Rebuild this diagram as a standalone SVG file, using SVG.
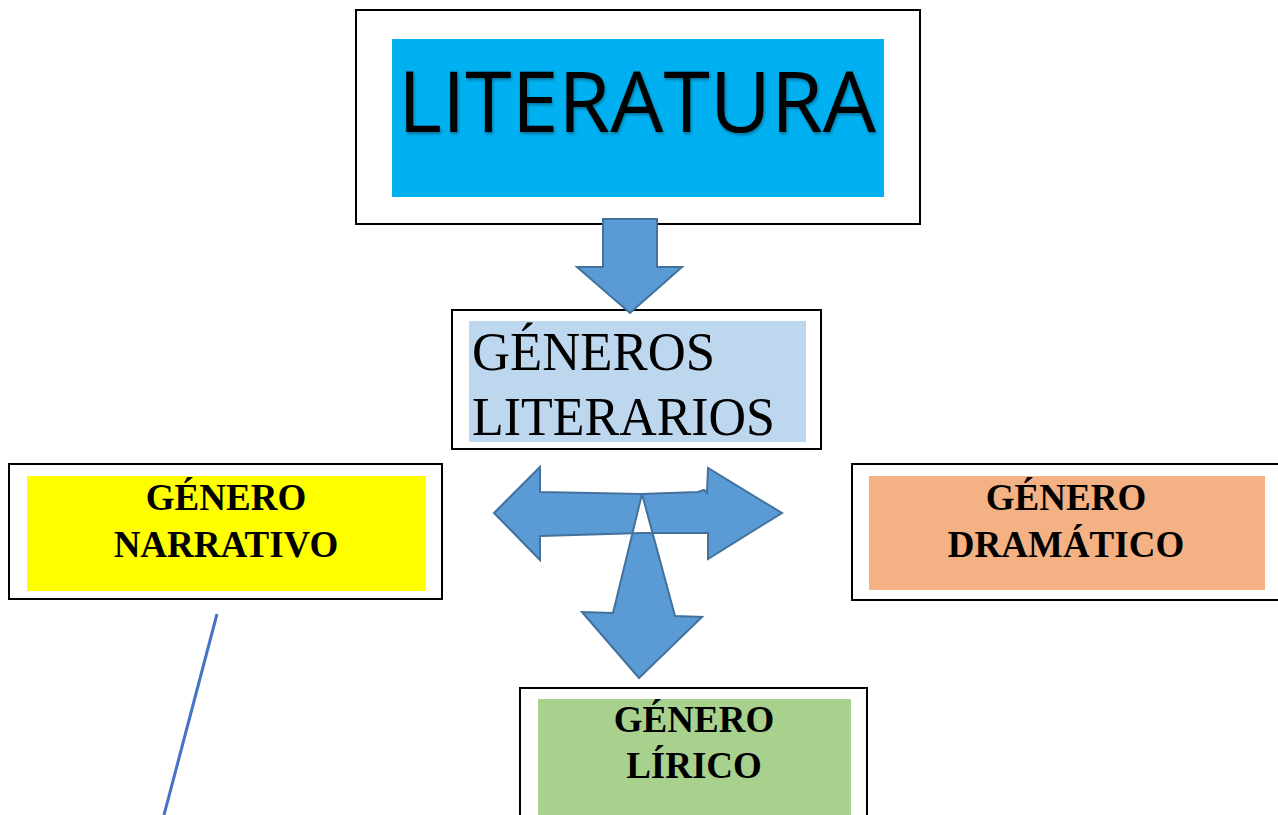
<svg xmlns="http://www.w3.org/2000/svg" width="1278" height="815" viewBox="0 0 1278 815">
<style>
.frame{fill:#fff;stroke:#000;stroke-width:2}
.arrow{fill:#5B9BD5;stroke:#41719C;stroke-width:2;stroke-linejoin:miter}
.fillonly{fill:#5B9BD5;stroke:none}
.outline{fill:none;stroke:#41719C;stroke-width:2}
.lbl{font-family:"Liberation Serif","Times New Roman",serif;font-weight:bold;font-size:37px;fill:#000;text-anchor:middle}
.gen{font-family:"Liberation Serif","Times New Roman",serif;font-size:54px;fill:#000}
</style>
<defs>
<filter id="sh" x="-5%" y="-5%" width="110%" height="115%">
<feDropShadow dx="1" dy="2" stdDeviation="1.5" flood-color="#000" flood-opacity="0.35"/>
</filter>
</defs>
<rect width="1278" height="815" fill="#fff"/>
<g id="literatura">
<rect class="frame" x="356" y="10" width="564" height="214"/>
<rect x="392" y="39" width="492" height="158" fill="#00B0F0"/>
<text x="398" y="132" font-family="'Open Sans','Noto Sans',sans-serif" font-size="84" fill="#000" textLength="478" lengthAdjust="spacingAndGlyphs" filter="url(#sh)">LITERATURA</text>
</g>
<g id="generos">
<rect class="frame" x="452" y="310" width="369" height="139"/>
<rect x="469" y="321" width="337" height="121" fill="#BDD7EE"/>
<text class="gen" x="472" y="370" textLength="243" lengthAdjust="spacingAndGlyphs">GÉNEROS</text>
<text class="gen" x="472" y="435" textLength="303" lengthAdjust="spacingAndGlyphs">LITERARIOS</text>
</g>
<g id="narrativo">
<rect class="frame" x="9" y="464" width="433" height="135"/>
<rect x="27" y="476" width="399" height="115" fill="#FFFF00"/>
<text class="lbl" x="226" y="510">GÉNERO</text>
<text class="lbl" x="226" y="557">NARRATIVO</text>
</g>
<g id="dramatico">
<rect class="frame" x="852" y="464" width="440" height="136"/>
<rect x="869" y="476" width="396" height="114" fill="#F4B183"/>
<text class="lbl" x="1066" y="510">GÉNERO</text>
<text class="lbl" x="1066" y="557">DRAMÁTICO</text>
</g>
<g id="lirico">
<rect class="frame" x="520" y="688" width="347" height="140"/>
<rect x="538" y="699" width="313" height="120" fill="#A9D18E"/>
<text class="lbl" x="694" y="732">GÉNERO</text>
<text class="lbl" x="694" y="778">LÍRICO</text>
</g>
<g id="connectors">
<polygon class="arrow" points="603,219 657,219 657,267 682,267 630,313 577,267 603,267"/>
<polygon class="fillonly" points="494,513 540,467 540,492 642,494 698,492 704,490 707,493 708,468 782,513 708,559 708,533 642,533 540,536 540,560"/>
<polygon class="fillonly" points="642,494 613,613 582,612 639,678 702,617 675,616"/>
<polygon points="642,494 632.5,533.5 652.5,533.5" fill="#fff"/>
<polygon class="outline" points="494,513 540,467 540,492 642,494 698,492 704,490 707,493 708,468 782,513 708,559 708,533 642,533 540,536 540,560"/>
<polygon class="outline" points="642,494 613,613 582,612 639,678 702,617 675,616"/>
<line x1="217" y1="614" x2="164" y2="815" stroke="#4472C4" stroke-width="3"/>
</g>
</svg>
